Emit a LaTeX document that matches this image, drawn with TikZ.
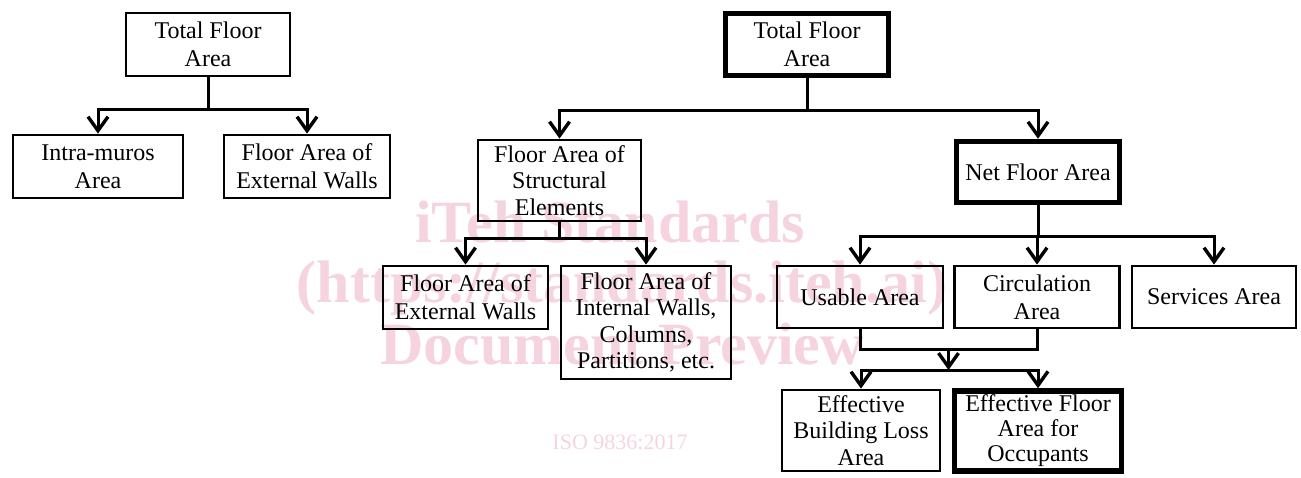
\documentclass[tikz,border=0pt]{standalone}
\usepackage{fontspec}
\setmainfont{Liberation Serif}
\usetikzlibrary{arrows.meta}
\definecolor{wm}{RGB}{246,212,223}
\begin{document}
\begin{tikzpicture}[x=1pt,y=-1pt,
  box/.style={draw=black, line width=2.8pt, align=center, inner sep=0pt,
    font=\fontsize{24}{28}\selectfont},
  tight/.style={font=\fontsize{24}{26.5}\selectfont},
  tighter/.style={font=\fontsize{24}{25}\selectfont},
  boldbox/.style={box, line width=5.5pt},
  link/.style={line width=3pt},
  arr/.style={link, -{Straight Barb[length=14pt,width=20pt,line width=3.4pt]}},
  wmark/.style={text=wm, inner sep=0pt, anchor=base,
    font=\fontsize{60}{60}\selectfont\bfseries},
  wsmall/.style={text=wm, inner sep=0pt, anchor=base,
    font=\fontsize{22}{22}\selectfont}
]
\useasboundingbox (0,0) rectangle (1301,477);

% watermark
\node[wmark] (w1) at (610,242) {iTeh Standards};
\node[wmark] (w2) at (622,302) {(https://standards.iteh.ai)};
\node[wmark] (w3) at (622,364) {Document Preview};
\node[wsmall] (w4) at (620,449) {ISO 9836:2017};

% left tree
\node[box, minimum width=164pt, minimum height=63pt] (L0) at (208,44.5) {Total Floor\\Area};
\node[box, minimum width=170pt, minimum height=63pt] (L1) at (98,166.5) {Intra-muros\\Area};
\node[box, minimum width=166pt, minimum height=63pt] (L2) at (307,166.5) {Floor Area of\\External Walls};
\coordinate (j1) at (208,109);
\draw[link] (L0.south) -- (j1);
\draw[arr] (j1) -| (L1.north);
\draw[arr] (j1) -| (L2.north);

% right tree
\node[boldbox, minimum width=163pt, minimum height=62pt] (R0) at (807,44.5) {Total Floor\\Area};
\node[box, tight, minimum width=163pt, minimum height=81pt] (S) at (559.5,180.5) {Floor Area of\\Structural\\Elements};
\node[boldbox, minimum width=163pt, minimum height=61pt] (NFA) at (1038,172) {Net Floor Area};
\coordinate (j2) at (807,110);
\draw[link] (R0.south) -- (j2);
\draw[arr] (j2) -| (S.north);
\draw[arr] (j2) -| (NFA.north);

\node[box, minimum width=165pt, minimum height=63pt] (E2) at (465.5,297.5) {Floor Area of\\External Walls};
\node[box, tight, minimum width=170pt, minimum height=113pt] (IW) at (646,322.5) {Floor Area of\\Internal Walls,\\Columns,\\Partitions, etc.};
\coordinate (j3) at (559.5,238);
\draw[link] (S.south) -- (j3);
\draw[arr] (j3) -| (E2.north);
\draw[arr] (j3) -| (IW.north);

\node[box, minimum width=166pt, minimum height=62pt] (U) at (860,297) {Usable Area};
\node[box, minimum width=165pt, minimum height=62pt] (C) at (1037,297) {Circulation\\Area};
\node[box, minimum width=164pt, minimum height=62pt] (Sv) at (1214,297) {Services Area};
\coordinate (j4) at (1038,236);
\draw[link] (NFA.south) -- (j4);
\draw[arr] (j4) -| (U.north);
\draw[arr] (j4) -| (C.north);
\draw[arr] (j4) -| (Sv.north);

\node[box, tight, minimum width=158pt, minimum height=81pt] (EB) at (861,430.5) {Effective\\Building Loss\\Area};
\node[boldbox, tighter, minimum width=167pt, minimum height=80pt] (EF) at (1038,431) {Effective Floor\\Area for\\Occupants};
\coordinate (m1) at (948.5,349);
\coordinate (m2) at (948.5,370);
\draw[link] (U.south) |- (m1) -| (C.south);
\draw[arr] (m1) -- (m2);
\draw[arr] (m2) -| (EB.north);
\draw[arr] (m2) -| (EF.north);
\end{tikzpicture}
\end{document}
